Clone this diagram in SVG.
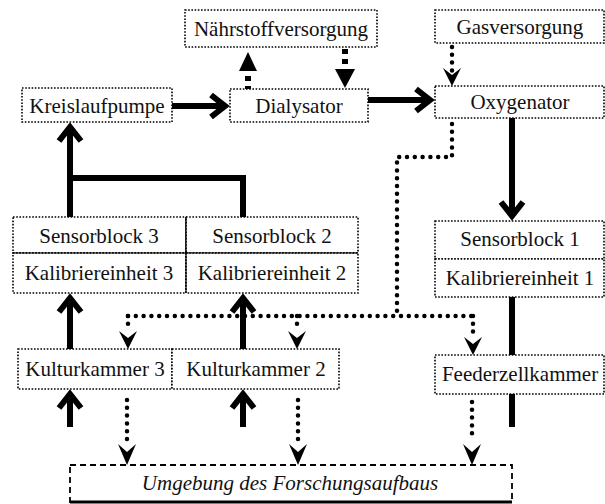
<svg xmlns="http://www.w3.org/2000/svg" width="605" height="504" viewBox="0 0 605 504">
<defs>
<style>
.box{fill:#fff;stroke:#000;stroke-width:1.6;stroke-dasharray:1.6 1.6}
.sep{stroke:#000;stroke-width:1.2;fill:none}
text{font-family:'Liberation Serif','DejaVu Serif',serif;font-size:21px;fill:#111;text-anchor:middle}
.it{font-style:italic}
.thick{stroke:#000;stroke-width:6;fill:none}
.head{stroke:#000;stroke-width:6;fill:none;stroke-linejoin:miter;stroke-miterlimit:10}
.dash{stroke:#000;stroke-width:6;fill:none;stroke-dasharray:5 5}
.dot{stroke:#000;stroke-width:4.5;fill:none;stroke-dasharray:0 7.8;stroke-linecap:round}
.tri{fill:#000}
.env{fill:#fff;stroke:#000;stroke-width:1.8;stroke-dasharray:6 4}
</style>
</defs>
<g id="connectors">
<line class="thick" x1="172" y1="106" x2="224" y2="106"/>
<polyline class="head" points="211,95 225,106 211,117"/>
<line class="thick" x1="368" y1="100" x2="429" y2="100"/>
<polyline class="head" points="416,89 430,100 416,111"/>
<line class="dash" x1="248" y1="89" x2="248" y2="70" style="stroke-dashoffset:2"/>
<polygon class="tri" points="248,52 239,71 257,71"/>
<line class="dash" x1="345" y1="49" x2="345" y2="70"/>
<polygon class="tri" points="345,88 335,69 355,69"/>
<line class="dot" x1="452" y1="47" x2="452" y2="72"/>
<path class="tri" d="M452,86 L443,68 L452,75 L461,68 Z"/>
<polyline class="dot" points="452,124 452,157 397,157 397,316"/>
<line class="dot" x1="128" y1="316" x2="475" y2="316"/>
<line class="dot" x1="128" y1="316" x2="128" y2="330"/>
<path class="tri" d="M128,349 L119,331 L128,338 L137,331 Z"/>
<line class="dot" x1="297" y1="316" x2="297" y2="330"/>
<path class="tri" d="M297,349 L288,331 L297,338 L306,331 Z"/>
<line class="dot" x1="473" y1="316" x2="473" y2="336"/>
<path class="tri" d="M473,355 L464,337 L473,344 L482,337 Z"/>
<polyline class="thick" points="243,217 243,178 70,178"/>
<line class="thick" x1="70" y1="217" x2="70" y2="128"/>
<polyline class="head" points="59,141 70,127 81,141"/>
<line class="thick" x1="512" y1="118" x2="512" y2="215"/>
<polyline class="head" points="501,202 512,216 523,202"/>
<line class="thick" x1="512" y1="297" x2="512" y2="427"/>
<line class="thick" x1="70" y1="427" x2="70" y2="395"/>
<polyline class="head" points="59,408 70,394 81,408"/>
<line class="thick" x1="243" y1="427" x2="243" y2="395"/>
<polyline class="head" points="232,408 243,394 254,408"/>
<line class="thick" x1="70" y1="349" x2="70" y2="299"/>
<polyline class="head" points="59,312 70,298 81,312"/>
<line class="thick" x1="243" y1="349" x2="243" y2="299"/>
<polyline class="head" points="232,312 243,298 254,312"/>
<line class="dot" x1="127" y1="400" x2="127" y2="440"/>
<path class="tri" d="M127,465 L118,444 L127,452 L136,444 Z"/>
<line class="dot" x1="298" y1="400" x2="298" y2="440"/>
<path class="tri" d="M298,465 L289,444 L298,452 L307,444 Z"/>
<line class="dot" x1="472" y1="402" x2="472" y2="440"/>
<path class="tri" d="M472,465 L463,444 L472,452 L481,444 Z"/>
</g>
<g id="naehrstoffversorgung"><rect class="box" x="185" y="10" width="192" height="37"/><text x="281" y="36">Nährstoffversorgung</text></g>
<g id="gasversorgung"><rect class="box" x="435" y="10" width="169" height="33"/><text x="520" y="34">Gasversorgung</text></g>
<g id="kreislaufpumpe"><rect class="box" x="22" y="88" width="150" height="34"/><text x="97" y="113">Kreislaufpumpe</text></g>
<g id="dialysator"><rect class="box" x="230" y="89" width="138" height="33"/><text x="299" y="113">Dialysator</text></g>
<g id="oxygenator"><rect class="box" x="435" y="86" width="169" height="32"/><text x="520" y="109">Oxygenator</text></g>
<g id="sensorblock3"><rect class="box" x="13" y="217" width="173" height="36"/><text x="99" y="243">Sensorblock 3</text></g>
<g id="kalibriereinheit3"><rect class="box" x="13" y="253" width="173" height="40"/><text x="99" y="280">Kalibriereinheit 3</text></g>
<g id="sensorblock2"><rect class="box" x="186" y="217" width="172" height="36"/><text x="272" y="243">Sensorblock 2</text></g>
<g id="kalibriereinheit2"><rect class="box" x="186" y="253" width="172" height="40"/><text x="272" y="280">Kalibriereinheit 2</text></g>
<line class="sep" x1="13" y1="253" x2="358" y2="253"/>
<line class="sep" x1="186" y1="217" x2="186" y2="293"/>
<g id="sensorblock1"><rect class="box" x="435" y="221" width="169" height="38"/><text x="520" y="246">Sensorblock 1</text></g>
<g id="kalibriereinheit1"><rect class="box" x="435" y="259" width="169" height="38"/><text x="520" y="285">Kalibriereinheit 1</text></g>
<g id="kulturkammer3"><rect class="box" x="18" y="349" width="154" height="40"/><text x="95" y="376">Kulturkammer 3</text></g>
<g id="kulturkammer2"><rect class="box" x="172" y="349" width="167" height="40"/><text x="256" y="376">Kulturkammer 2</text></g>
<g id="feederzellkammer"><rect class="box" x="435" y="355" width="169" height="39"/><text x="520" y="381">Feederzellkammer</text></g>
<g id="umgebung"><rect class="env" x="70" y="465" width="442" height="37"/><line x1="70" y1="502" x2="512" y2="502" stroke="#000" stroke-width="3"/><text class="it" x="290" y="490">Umgebung des Forschungsaufbaus</text></g>
</svg>
